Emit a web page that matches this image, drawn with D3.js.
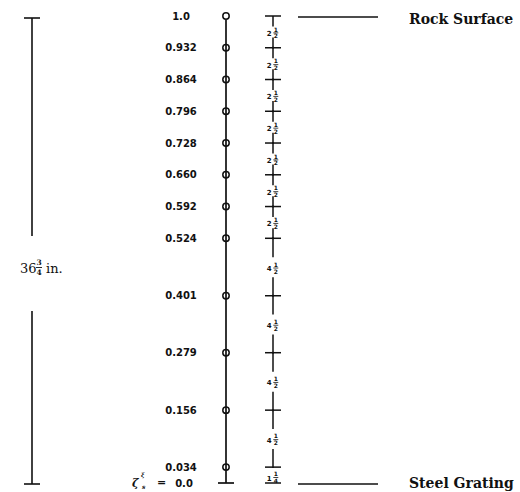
<!DOCTYPE html>
<html>
<head>
<meta charset="utf-8">
<script src="https://cdn.jsdelivr.net/npm/d3@7"></script>
<style>
  body { margin: 0; background: #fff; }
  text { fill: #111; }
</style>
</head>
<body>
<script>
// station positions (fraction of depth, rock surface = 1.0)
var positions = [1.0, 0.932, 0.864, 0.796, 0.728, 0.660, 0.592, 0.524, 0.401, 0.279, 0.156, 0.034, 0.0];
var posLabels = ["1.0", "0.932", "0.864", "0.796", "0.728", "0.660", "0.592", "0.524", "0.401", "0.279", "0.156", "0.034", "0.0"];
// spacing between stations, inches (whole + fraction)
var spaceWhole = ["2", "2", "2", "2", "2", "2", "2", "4", "4", "4", "4", "1"];
var spaceNum = ["1", "1", "1", "1", "1", "1", "1", "1", "1", "1", "1", "1"];
var spaceDen = ["2", "2", "2", "2", "2", "2", "2", "2", "2", "2", "2", "4"];
var boundaryVals = [1.0, 0.0];
var boundaryNames = ["Rock Surface", "Steel Grating"];
var totalWhole = "36", totalNum = "3", totalDen = "4", totalUnit = "in.";

var svgWidth = 520, svgHeight = 492;
var svg = d3.select("body").append("svg")
    .attr("width", svgWidth)
    .attr("height", svgHeight);

var y = d3.scaleLinear().domain([0, 1]).range([483, 16]);

var colX = 226, rulerX = 273, labelX = 181, dimX = 32;
var ink = "#111";

// ---- left dimension line
var dim = svg.append("g");
dim.append("line").attr("x1", dimX).attr("x2", dimX)
    .attr("y1", y(1) + 2).attr("y2", 236).attr("stroke", ink).attr("stroke-width", 1.6);
dim.append("line").attr("x1", dimX).attr("x2", dimX)
    .attr("y1", 311).attr("y2", y(0) + 1).attr("stroke", ink).attr("stroke-width", 1.6);
[y(1) + 2, y(0) + 1].forEach(function(v) {
  dim.append("line").attr("x1", dimX - 8).attr("x2", dimX + 8)
      .attr("y1", v).attr("y2", v).attr("stroke", ink).attr("stroke-width", 1.6);
});
dim.append("text").attr("font-family", "DejaVu Serif").attr("font-size", 13)
    .attr("x", 20).attr("y", 273).text(totalWhole);
dim.append("text").attr("font-family", "DejaVu Serif").attr("font-weight", "bold")
    .attr("font-size", 7.5).attr("x", 39).attr("y", 265).attr("text-anchor", "middle").text(totalNum);
dim.append("text").attr("font-family", "DejaVu Serif").attr("font-weight", "bold")
    .attr("font-size", 7.5).attr("x", 39).attr("y", 275).attr("text-anchor", "middle").text(totalDen);
dim.append("line").attr("x1", 36).attr("x2", 42).attr("y1", 267.5).attr("y2", 267.5)
    .attr("stroke", ink).attr("stroke-width", 0.9);
dim.append("text").attr("font-family", "DejaVu Serif").attr("font-size", 13)
    .attr("x", 46).attr("y", 273).text(totalUnit);

// ---- station column
var col = svg.append("g");
col.append("line").attr("x1", colX).attr("x2", colX)
    .attr("y1", y(1) + 3.5).attr("y2", y(0)).attr("stroke", ink).attr("stroke-width", 1.7);
col.append("line").attr("x1", colX - 8).attr("x2", colX + 8)
    .attr("y1", y(0)).attr("y2", y(0)).attr("stroke", ink).attr("stroke-width", 1.7);
col.selectAll("circle")
    .data(positions.slice(0, -1))
    .enter().append("circle")
    .attr("cx", colX)
    .attr("cy", function(d) { return y(d); })
    .attr("r", 3.2)
    .attr("fill", function(d, i) { return i == 0 ? "#fff" : "none"; })
    .attr("stroke", ink)
    .attr("stroke-width", 1.5);

col.selectAll("text.pos")
    .data(positions.slice(0, -1))
    .enter().append("text")
    .attr("class", "pos")
    .attr("x", labelX)
    .attr("y", function(d) { return y(d) + 3.5; })
    .attr("text-anchor", "middle")
    .attr("font-family", "DejaVu Sans")
    .attr("font-weight", "bold")
    .attr("font-size", 10)
    .text(function(d, i) { return posLabels[i]; });

// bottom label  xi/zeta = 0.0
col.append("text").attr("x", 132).attr("y", y(0) + 4)
    .attr("font-family", "DejaVu Serif").attr("font-style", "italic").attr("font-weight", "bold")
    .attr("font-size", 11).text("ζ");
col.append("text").attr("x", 141).attr("y", y(0) - 6)
    .attr("font-family", "DejaVu Serif").attr("font-style", "italic").attr("font-weight", "bold")
    .attr("font-size", 6).text("ξ");
col.append("text").attr("x", 142).attr("y", y(0) + 6)
    .attr("font-family", "DejaVu Serif").attr("font-style", "italic").attr("font-weight", "bold")
    .attr("font-size", 6).text("s");
col.append("text").attr("x", 157).attr("y", y(0) + 3)
    .attr("font-family", "DejaVu Sans").attr("font-weight", "bold").attr("font-size", 11).text("=");
col.append("text").attr("x", 184).attr("y", y(0) + 4).attr("text-anchor", "middle")
    .attr("font-family", "DejaVu Sans").attr("font-weight", "bold").attr("font-size", 10)
    .text(posLabels[posLabels.length - 1]);

// ---- spacing ruler
var rul = svg.append("g");
rul.selectAll("line.tick")
    .data(positions)
    .enter().append("line")
    .attr("class", "tick")
    .attr("x1", rulerX - 8).attr("x2", rulerX + 8)
    .attr("y1", function(d) { return y(d); })
    .attr("y2", function(d) { return y(d); })
    .attr("stroke", ink).attr("stroke-width", 1.5);

var segs = d3.pairs(positions).map(function(p, i) {
  return { a: y(p[0]), b: y(p[1]), i: i };
});
segs.forEach(function(s) {
  var len = s.b - s.a;
  var g = rul.append("g");
  if (len > 20) {
    g.append("line").attr("x1", rulerX).attr("x2", rulerX)
        .attr("y1", s.a - (s.i == 0 ? 0 : 1)).attr("y2", s.a + 0.33 * len)
        .attr("stroke", ink).attr("stroke-width", 1.5);
    g.append("line").attr("x1", rulerX).attr("x2", rulerX)
        .attr("y1", s.a + 0.68 * len).attr("y2", s.b + 1)
        .attr("stroke", ink).attr("stroke-width", 1.5);
  }
  var cy = len > 20 ? (s.a + s.b) / 2 + 0.5 : s.b - 6;
  g.append("text").attr("x", rulerX - 1.5).attr("y", cy + 3.5)
      .attr("text-anchor", "end")
      .attr("font-family", "DejaVu Sans").attr("font-weight", "bold").attr("font-size", 7)
      .text(spaceWhole[s.i]);
  g.append("text").attr("x", rulerX + 2.8).attr("y", cy - 0.8)
      .attr("text-anchor", "middle")
      .attr("font-family", "DejaVu Sans").attr("font-weight", "bold").attr("font-size", 6)
      .text(spaceNum[s.i]);
  g.append("line").attr("x1", rulerX + 0.3).attr("x2", rulerX + 5.3)
      .attr("y1", cy + 0.5).attr("y2", cy + 0.5)
      .attr("stroke", ink).attr("stroke-width", 0.8);
  g.append("text").attr("x", rulerX + 2.8).attr("y", cy + 6)
      .attr("text-anchor", "middle")
      .attr("font-family", "DejaVu Sans").attr("font-weight", "bold").attr("font-size", 6)
      .text(spaceDen[s.i]);
});

// ---- boundaries
var bnd = svg.append("g");
bnd.selectAll("line")
    .data(boundaryVals)
    .enter().append("line")
    .attr("x1", 298).attr("x2", 378)
    .attr("y1", function(d) { return y(d) + 1; })
    .attr("y2", function(d) { return y(d) + 1; })
    .attr("stroke", ink).attr("stroke-width", 1.5);
bnd.selectAll("text")
    .data(boundaryVals)
    .enter().append("text")
    .attr("x", 409)
    .attr("y", function(d) { return d == 1 ? y(d) + 8 : y(d) + 5; })
    .attr("font-family", "DejaVu Serif")
    .attr("font-weight", "bold")
    .attr("font-size", 14)
    .text(function(d, i) { return boundaryNames[i]; });
</script>
</body>
</html>
